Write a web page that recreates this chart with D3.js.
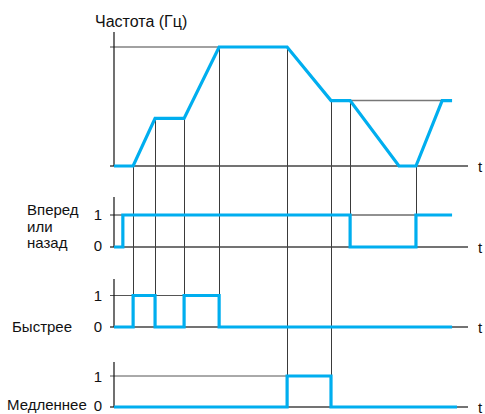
<!DOCTYPE html>
<html><head><meta charset="utf-8">
<script src="https://cdn.jsdelivr.net/npm/d3@7"></script>
<style>
html,body{margin:0;padding:0;background:#fff;}
svg text{font-family:"Liberation Sans",Arial,Helvetica,sans-serif;fill:#111;}
</style></head>
<body><svg id="c" width="485" height="414"></svg>
<script>
// ---- data (time in arbitrary units, 0..100) ----
const freqTimes  = [0, 5.4, 11.6, 19.8, 29.7, 48.9, 61.3, 66.7, 80.5, 85.3, 92.7, 95.5];
const freqValues = [0, 0,   40,   40,   100,  100,  55,   55,   0,    0,    55,   55];

const dirTimes   = [0, 2.5, 66.7, 85.3, 95.5];
const dirValues  = [0, 1,   0,    1,    1];

const fastTimes  = [0, 5.4, 11.6, 19.8, 29.7, 95.5];
const fastValues = [0, 1,   0,    1,    0,    0];

const slowTimes  = [0, 48.9, 61.3, 96.9];
const slowValues = [0, 1,    0,    0];

const panelLabels = ["Частота (Гц)", ["Вперед","или","назад"], ["Быстрее"], ["Медленнее"]];
const tickLabels = ["0", "1"];
const axisLabel = "t";

// ---- layout ----
const svg = d3.select("#c");
const blue = "#00aeef";
const x = d3.scaleLinear().domain([0, 100]).range([114, 468]);
const yF = d3.scaleLinear().domain([0, 100]).range([166, 47]);
const yDir = d3.scaleLinear().domain([0, 1]).range([247, 215]);
const yFast = d3.scaleLinear().domain([0, 1]).range([327, 295.5]);
const ySlow = d3.scaleLinear().domain([0, 1]).range([407, 376]);

const g = svg.append("g");
function hline(x1, x2, y, col, w) {
  g.append("line").attr("x1", x1).attr("x2", x2).attr("y1", y).attr("y2", y)
    .attr("stroke", col || "#333").attr("stroke-width", w || 1);
}
function vline(xx, y1, y2, col, w) {
  g.append("line").attr("x1", xx).attr("x2", xx).attr("y1", y1).attr("y2", y2)
    .attr("stroke", col || "#333").attr("stroke-width", w || 1);
}

// guide vertical lines: [time, frequency at top, lower scale]
const guides = [
  [5.4, 0, yFast], [11.6, 40, yFast], [19.8, 40, yFast], [29.7, 100, yFast],
  [48.9, 100, ySlow], [61.3, 55, ySlow], [66.7, 55, yDir], [85.3, 0, yDir]
];
guides.forEach(([t, f, ys]) => vline(Math.round(x(t)) + 0.5, yF(f), ys(1), "#3a3a3a", 1));

// reference horizontal lines
hline(x(0) - 4, x(29.7), yF(100), "#444", 1.2);
hline(x(66.7), x(92.7), yF(55), "#777", 1.5);
hline(x(0) - 4, x(85.3), yDir(1), "#222", 1);
hline(x(0) - 4, x(29.7), yFast(1), "#555", 1);
hline(x(0) - 4, x(48.9), ySlow(1), "#555", 1);

// baselines & y axes
[[yF, 32], [yDir, 197], [yFast, 279], [ySlow, 362]].forEach(([ys, top]) => {
  hline(x(0) - 4, x(100), ys(0), "#444", 1.4);
  vline(x(0), top, ys(0), "#111", 1.2);
  svg.append("text").attr("x", 478).attr("y", ys(0) + 5.5).attr("font-size", 15).text(axisLabel);
});

// signals
const lineF = d3.line().x(d => x(d[0])).y(d => yF(d[1]));
svg.append("path").datum(d3.zip(freqTimes, freqValues)).attr("d", lineF)
  .attr("fill", "none").attr("stroke", blue).attr("stroke-width", 3.2);

function step(times, vals, ys) {
  const ln = d3.line().x(d => x(d[0])).y(d => ys(d[1])).curve(d3.curveStepAfter);
  svg.append("path").datum(d3.zip(times, vals)).attr("d", ln)
    .attr("fill", "none").attr("stroke", blue).attr("stroke-width", 3.2);
}
step(dirTimes, dirValues, yDir);
step(fastTimes, fastValues, yFast);
step(slowTimes, slowValues, ySlow);

// tick labels
[[yDir, 5, 4], [yFast, 5.5, 5], [ySlow, 6, 3.5]].forEach(([ys, o1, o0]) => {
  svg.append("text").attr("x", 102).attr("y", ys(1) + o1).attr("font-size", 15)
    .attr("text-anchor", "end").text(tickLabels[1]);
  svg.append("text").attr("x", 102).attr("y", ys(0) + o0).attr("font-size", 15)
    .attr("text-anchor", "end").text(tickLabels[0]);
});

// panel labels
svg.append("text").attr("x", 95).attr("y", 27).attr("font-size", 16).text(panelLabels[0]);
panelLabels[1].forEach((s, i) => svg.append("text").attr("x", 27).attr("y", 215 + i * 16.5).attr("font-size", 15).text(s));
svg.append("text").attr("x", 12).attr("y", 332).attr("font-size", 15).text(panelLabels[2][0]);
svg.append("text").attr("x", 7).attr("y", 410).attr("font-size", 15).text(panelLabels[3][0]);
</script></body></html>
